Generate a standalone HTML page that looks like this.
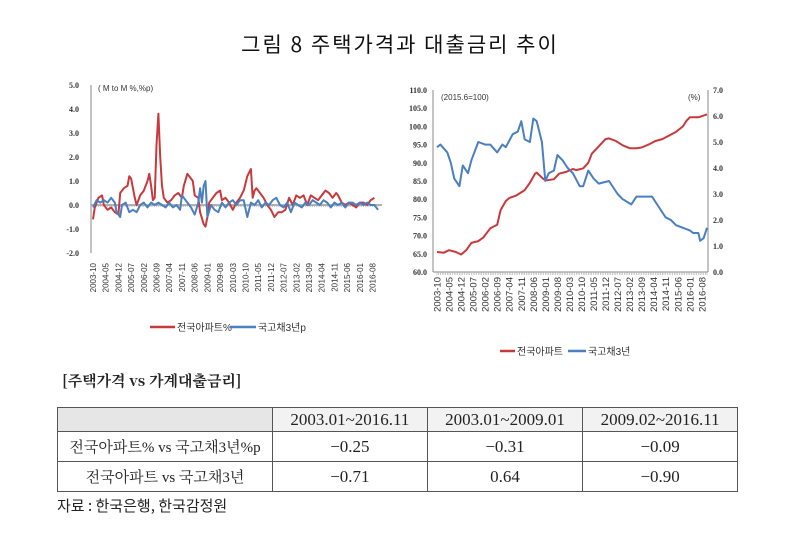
<!DOCTYPE html>
<html><head><meta charset="utf-8">
<style>
body{margin:0;width:800px;height:533px;background:#fff;position:relative;overflow:hidden;font-family:"Liberation Sans","Noto Sans CJK KR",sans-serif}
.abs{position:absolute}
table{border-collapse:collapse;position:absolute;left:57px;top:407px;width:681px;font-family:"Liberation Serif","Noto Serif CJK SC",serif;font-size:17px;color:#222}
td{border:1px solid #555;text-align:center;padding:0}
td.lab{font-size:15px}
</style></head><body>
<div class="abs" style="left:0;width:800px;top:29px;text-align:center;font-size:21px;letter-spacing:2px;color:#111;font-family:'Noto Sans CJK KR',sans-serif">그림 8 주택가격과 대출금리 추이</div>
<svg class="abs" style="left:0;top:0" width="800" height="370" id="charts"></svg>
<div class="abs" style="left:62px;top:370px;font-size:15px;font-weight:bold;color:#222;font-family:'Noto Serif CJK SC',serif">[주택가격 vs 가계대출금리]</div>
<table>
<tr style="height:24px"><td style="background:#e6e6e6;width:214px"></td><td style="background:#f2f2f2">2003.01~2016.11</td><td style="background:#f2f2f2">2003.01~2009.01</td><td style="background:#f2f2f2">2009.02~2016.11</td></tr>
<tr style="height:30px"><td class="lab">전국아파트% vs 국고채3년%p</td><td>−0.25</td><td>−0.31</td><td>−0.09</td></tr>
<tr style="height:30px"><td class="lab">전국아파트 vs 국고채3년</td><td>−0.71</td><td>0.64</td><td>−0.90</td></tr>
</table>
<div class="abs" style="left:57px;top:495px;font-size:15px;color:#222;font-family:'Noto Sans CJK KR',sans-serif">자료 : 한국은행, 한국감정원</div>
<script>
const xLabels=["2003-10","2004-05","2004-12","2005-07","2006-02","2006-09","2007-04","2007-11","2008-06","2009-01","2009-08","2010-03","2010-10","2011-05","2011-12","2012-07","2013-02","2013-09","2014-04","2014-11","2015-06","2016-01","2016-08"];
const leftTicks=[5,4,3,2,1,0,-1,-2];
const redMomX=[0,1,3,5,6,8,10,12,14,15,17,19,20,21,23,24,26,28,30,31,32,33,34,35,36,37,38,39,41,43,45,47,49,50,52,54,55,56,58,59,61,62,63,64,66,68,70,71,73,75,77,79,81,83,85,87,88,89,90,92,94,96,98,100,102,104,106,108,110,112,114,116,118,120,122,124,126,128,130,132,134,135,137,139,141,143,145,147,149,151,153,155,157];
const redMomY=[-0.6,-0.1,0.3,0.4,0.0,-0.2,-0.1,-0.3,-0.4,0.5,0.7,0.8,1.2,1.1,0.3,0.0,0.4,0.6,1.0,1.3,0.8,0.2,0.3,2.5,3.8,2.0,0.8,0.3,0.1,0.2,0.4,0.5,0.3,0.8,1.3,1.1,1.0,0.4,0.3,-0.3,-0.8,-0.9,-0.5,0.1,0.3,0.5,0.6,0.2,0.3,0.1,-0.2,0.1,0.3,0.6,1.2,1.5,0.3,0.6,0.7,0.5,0.3,0.0,-0.2,-0.5,-0.3,-0.3,-0.2,0.3,0.0,0.4,0.3,0.4,0.0,0.4,0.3,0.2,0.4,0.6,0.5,0.3,0.5,0.4,0.1,0.0,0.1,0.0,-0.1,0.1,0.1,0.0,0.2,0.3];
const blueMomX=[0,2,4,6,8,10,12,13,15,16,18,20,22,24,26,28,30,32,34,36,38,40,42,44,46,48,49,50,52,54,56,58,59,60,61,62,63,65,67,69,71,73,75,77,79,81,83,85,87,89,91,93,95,97,99,101,103,105,107,109,111,113,115,117,119,121,123,125,127,129,131,133,135,137,139,141,143,145,147,149,151,153,155,157];
const blueMomY=[-0.1,0.2,0.1,0.2,0.1,0.3,0.1,-0.3,-0.5,0.0,0.1,-0.3,-0.2,-0.3,0.0,0.1,-0.1,0.1,0.0,0.1,0.0,-0.1,0.1,-0.1,0.0,-0.2,0.4,0.3,0.1,-0.1,-0.4,0.1,0.7,0.1,0.8,1.0,-0.5,0.0,-0.2,-0.3,0.1,-0.1,0.1,0.2,0.0,0.2,0.2,-0.5,0.1,0.0,0.2,-0.1,0.1,0.0,0.2,0.3,0.0,-0.1,0.1,-0.3,0.1,0.0,-0.1,0.1,0.0,0.2,0.1,0.0,0.2,0.1,-0.1,0.1,0.0,0.1,-0.1,0.1,0.1,0.0,0.1,0.0,0.1,0.0,0.0,-0.2];
const rLeftTicks=[110,105,100,95,90,85,80,75,70,65,60];
const rRightTicks=[7,6,5,4,3,2,1,0];
const aptX=[0,4,7,11,14,17,20,24,27,31,35,37,40,42,46,51,54,57,58,62,64,68,71,75,79,81,85,88,90,94,98,100,104,108,112,116,119,123,127,131,135,139,143,145,147,152,157];
const aptY=[65.5,65.3,66,65.5,64.8,66,68,68.5,69.5,72,73,77,79.5,80.3,81,82.5,84.5,87,87.3,85.5,85.2,85.5,87,87.5,88.3,88,88.5,90,92.5,94.5,96.5,96.7,96,94.8,94,94,94.2,95,96,96.5,97.5,98.5,100,101.5,102.5,102.5,103.3];
const bondX=[0,2,6,8,10,13,15,18,20,24,28,31,35,38,40,44,47,49,51,54,56,58,61,63,65,68,70,73,76,79,83,85,88,91,94,100,105,108,113,116,122,125,129,133,136,139,143,147,149,152,153,155,157];
const bondY=[4.8,4.9,4.6,4.2,3.6,3.3,4.1,3.8,4.3,5.0,4.9,4.9,4.6,4.9,4.8,5.3,5.4,5.8,5.1,5.0,5.9,5.8,5.0,3.5,3.8,3.9,4.5,4.3,4.0,3.8,3.3,3.3,3.9,3.6,3.4,3.5,3.0,2.8,2.6,2.9,2.9,2.9,2.5,2.1,2.0,1.8,1.7,1.6,1.5,1.5,1.2,1.3,1.7];

const svg=document.getElementById('charts');
const NS='http://www.w3.org/2000/svg';
function mk(t,a,txt){const e=document.createElementNS(NS,t);for(const k in a)e.setAttribute(k,a[k]);if(txt!==undefined)e.textContent=txt;svg.appendChild(e);return e;}
function line(xs,ys,fx,fy,color,name){let d=xs.map((x,i)=>(i?'L':'M')+fx(x).toFixed(1)+','+fy(ys[i]).toFixed(1)).join('');const p=mk('path',{d:d,fill:'none',stroke:color,'stroke-width':2,'stroke-linejoin':'round'});}
const RED='#c8393c',BLUE='#4a7fc1';
const L={x0:91,x1:382,y0:85,y1:253,vmin:-2,vmax:5,N:157};
const lx=m=>L.x0+2+m*(L.x1-L.x0-6)/L.N;
const ly=v=>L.y1-(v-L.vmin)*(L.y1-L.y0)/(L.vmax-L.vmin);
mk('line',{x1:L.x0,y1:L.y0,x2:L.x0,y2:L.y1,stroke:'#888'});
mk('line',{x1:L.x0,y1:ly(0),x2:L.x1,y2:ly(0),stroke:'#999','stroke-width':1.5});
for(let m=0;m<=L.N;m++)mk('line',{x1:lx(m),y1:ly(0),x2:lx(m),y2:ly(0)+2,stroke:'#aaa','stroke-width':0.6});
leftTicks.forEach(v=>{const t=mk('text',{x:L.x0-12,y:ly(v)+3,'text-anchor':'end','font-size':8,'font-weight':'bold','font-family':'Liberation Serif, serif',fill:'#333'},v.toFixed(1));});
mk('text',{x:98,y:91,'font-size':8,fill:'#333'},'( M to M %,%p)');
xLabels.forEach((s,i)=>{const x=lx(i*7)+3;const t=mk('text',{x:0,y:0,transform:`translate(${x},263) rotate(-90)`,'text-anchor':'end','font-size':8,fill:'#333'},s);});
line(redMomX,redMomY,lx,ly,RED,'apt-mom-line');
line(blueMomX,blueMomY,lx,ly,BLUE,'bond-mom-line');
mk('line',{x1:150,y1:327,x2:175,y2:327,stroke:RED,'stroke-width':2.5});
mk('text',{x:177,y:331,'font-size':10,fill:'#333'},'전국아파트%');
mk('line',{x1:230,y1:327,x2:256,y2:327,stroke:BLUE,'stroke-width':2.5});
mk('text',{x:258,y:331,'font-size':10,fill:'#333'},'국고채3년p');
const R={x0:433,x1:708,y0:90,y1:272,N:157};
const rx=m=>R.x0+4+m*(R.x1-R.x0-5)/R.N;
const ryL=v=>R.y1-(v-60)*(R.y1-R.y0)/50;
const ryR=v=>R.y1-v*(R.y1-R.y0)/7;
mk('line',{x1:R.x0,y1:R.y0,x2:R.x0,y2:R.y1,stroke:'#888'});
mk('line',{x1:R.x1,y1:R.y0,x2:R.x1,y2:R.y1,stroke:'#888'});
mk('line',{x1:R.x0,y1:R.y1,x2:R.x1,y2:R.y1,stroke:'#888'});
for(let m=0;m<=R.N;m++)mk('line',{x1:rx(m),y1:R.y1,x2:rx(m),y2:R.y1+3,stroke:'#aaa','stroke-width':0.6});
rLeftTicks.forEach(v=>{const t=mk('text',{x:R.x0-6,y:ryL(v)+3,'text-anchor':'end','font-size':8,'font-weight':'bold','font-family':'Liberation Serif, serif',fill:'#333'},v.toFixed(1));});
rRightTicks.forEach(v=>{const t=mk('text',{x:R.x1+5,y:ryR(v)+3,'font-size':8,'font-weight':'bold','font-family':'Liberation Serif, serif',fill:'#333'},v.toFixed(1));});
mk('text',{x:441,y:100,'font-size':8,fill:'#333'},'(2015.6=100)');
mk('text',{x:688,y:100,'font-size':8,fill:'#333'},'(%)');
xLabels.forEach((s,i)=>{const x=rx(i*7)+3.5;const t=mk('text',{x:0,y:0,transform:`translate(${x},277) rotate(-90)`,'text-anchor':'end','font-size':9.5,fill:'#333'},s);});
line(aptX,aptY,rx,ryL,RED,'apt-index-line');
line(bondX,bondY,rx,ryR,BLUE,'bond-yield-line');
mk('line',{x1:500,y1:351,x2:515,y2:351,stroke:RED,'stroke-width':2.5});
mk('text',{x:517,y:355,'font-size':10,fill:'#333'},'전국아파트');
mk('line',{x1:568,y1:351,x2:586,y2:351,stroke:BLUE,'stroke-width':2.5});
mk('text',{x:588,y:355,'font-size':10,fill:'#333'},'국고채3년');
</script>
</body></html>
